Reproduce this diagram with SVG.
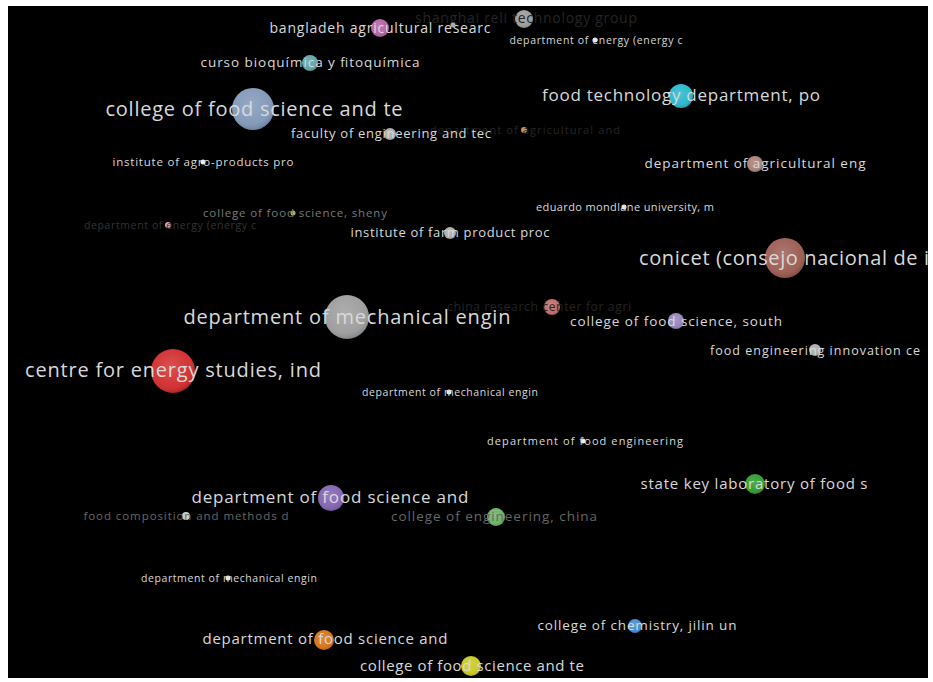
<svg xmlns="http://www.w3.org/2000/svg" width="933" height="682" viewBox="0 0 933 682">
<defs>
<radialGradient id="shade" cx="0.45" cy="0.4" r="0.6">
<stop offset="0" stop-color="#fff" stop-opacity="0.18"/>
<stop offset="0.7" stop-color="#fff" stop-opacity="0.05"/>
<stop offset="1" stop-color="#000" stop-opacity="0.15"/>
</radialGradient>
</defs>
<style>
text{font-family:"Open Sans","DejaVu Sans",sans-serif;text-anchor:middle;fill:#d9d9d9}
.f1{fill:#242424}.f2{fill:#333}.f3{fill:#7a7a7a}.f4{fill:#666}
.hl{fill:url(#shade)}
</style>
<rect x="0" y="0" width="933" height="682" fill="#fff"/>
<rect x="8" y="6" width="920" height="672" fill="#000"/>
<g id="connectors"></g>
<g id="n-shanghai"><circle cx="524" cy="19" r="9" fill="#9a9a9a"/><circle cx="524" cy="19" r="9" class="hl"/><text x="526" y="23" font-size="14" class="f1" textLength="222">shanghai reli technology group</text></g>
<g id="n-agriand"><circle cx="524" cy="130" r="3" fill="#c89050"/><text x="525" y="134" font-size="11" class="f1" textLength="190">department of agricultural and</text></g>
<g id="n-china"><circle cx="552" cy="307" r="8" fill="#c06868"/><circle cx="552" cy="307" r="8" class="hl"/><text x="539" y="311" font-size="12" class="f1" textLength="184">china research center for agri</text></g>
<g id="n-energy2"><circle cx="168" cy="225" r="3" fill="#d8a0b0"/><text x="170" y="229" font-size="10.5" class="f2" textLength="172">department of energy (energy c</text></g>
<g id="n-sheny"><circle cx="293" cy="213" r="2.5" fill="#b8b850"/><text x="295" y="217" font-size="11.5" class="f3" textLength="184">college of food science, sheny</text></g>
<g id="n-composition"><circle cx="186" cy="516" r="4" fill="#ccc"/><text x="186" y="520" font-size="11.5" class="f4" textLength="205">food composition and methods d</text></g>
<g id="n-engchina"><circle cx="496" cy="517" r="9" fill="#6ab060"/><circle cx="496" cy="517" r="9" class="hl"/><text x="494" y="521" font-size="13.5" class="f4" textLength="206">college of engineering, china</text></g>
<g id="n-bangladeh"><circle cx="380" cy="28" r="9" fill="#b45ea3"/><circle cx="380" cy="28" r="9" class="hl"/><text x="380" y="33" font-size="14" textLength="221">bangladeh agricultural researc</text></g>
<g id="n-dot453"><circle cx="453" cy="25" r="2.5" fill="#aaa"/></g>
<g id="n-energy1"><circle cx="595" cy="40" r="2.5" fill="#eee"/><text x="596" y="44" font-size="10.5" textLength="173">department of energy (energy c</text></g>
<g id="n-curso"><circle cx="310" cy="63" r="8" fill="#5aa3a6"/><circle cx="310" cy="63" r="8" class="hl"/><text x="310" y="67" font-size="13.5" textLength="219">curso bioquímica y fitoquímica</text></g>
<g id="n-cfst1"><circle cx="253" cy="109" r="21" fill="#7f97b8"/><circle cx="253" cy="109" r="21" class="hl"/><text x="254" y="116" font-size="20" textLength="297">college of food science and te</text></g>
<g id="n-faculty"><circle cx="390" cy="134" r="6" fill="#aaa"/><circle cx="390" cy="134" r="6" class="hl"/><text x="391" y="138" font-size="13" textLength="200">faculty of engineering and tec</text></g>
<g id="n-foodtech"><circle cx="681" cy="96" r="12" fill="#27b6ca"/><circle cx="681" cy="96" r="12" class="hl"/><text x="681" y="101" font-size="17" textLength="278">food technology department, po</text></g>
<g id="n-agrieng"><circle cx="755" cy="164" r="8" fill="#a87e76"/><circle cx="755" cy="164" r="8" class="hl"/><text x="755" y="168" font-size="13.5" textLength="221">department of agricultural eng</text></g>
<g id="n-agroprod"><circle cx="203" cy="162" r="2.5" fill="#eee"/><text x="203" y="166" font-size="11.5" textLength="181">institute of agro-products pro</text></g>
<g id="n-eduardo"><circle cx="624" cy="207" r="2.5" fill="#eee"/><text x="625" y="211" font-size="11" textLength="178">eduardo mondlane university, m</text></g>
<g id="n-farm"><circle cx="450" cy="233" r="6" fill="#aaa"/><circle cx="450" cy="233" r="6" class="hl"/><text x="450" y="237" font-size="13" textLength="199">institute of farm product proc</text></g>
<g id="n-conicet"><circle cx="785" cy="258" r="20" fill="#9a5a50"/><circle cx="785" cy="258" r="20" class="hl"/><text x="784" y="265" font-size="20" textLength="290">conicet (consejo nacional de i</text></g>
<g id="n-mech1"><circle cx="347" cy="317" r="22" fill="#9c9c9c"/><circle cx="347" cy="317" r="22" class="hl"/><text x="347" y="324" font-size="20" textLength="327">department of mechanical engin</text></g>
<g id="n-south"><circle cx="676" cy="321" r="8" fill="#9282b8"/><circle cx="676" cy="321" r="8" class="hl"/><text x="676" y="326" font-size="13.5" textLength="212">college of food science, south</text></g>
<g id="n-innov"><circle cx="815" cy="350" r="6" fill="#aaa"/><circle cx="815" cy="350" r="6" class="hl"/><text x="815" y="355" font-size="12.5" textLength="210">food engineering innovation ce</text></g>
<g id="n-centre"><circle cx="173" cy="371" r="22" fill="#d22a2a"/><circle cx="173" cy="371" r="22" class="hl"/><text x="173" y="377" font-size="20" textLength="296">centre for energy studies, ind</text></g>
<g id="n-mech2"><circle cx="449" cy="392" r="2.5" fill="#eee"/><text x="450" y="396" font-size="10.5" textLength="176">department of mechanical engin</text></g>
<g id="n-foodeng"><circle cx="583" cy="441" r="2.5" fill="#eee"/><text x="585" y="445" font-size="11" textLength="196">department of food engineering</text></g>
<g id="n-statekey"><circle cx="755" cy="484" r="10" fill="#2a9a2a"/><circle cx="755" cy="484" r="10" class="hl"/><text x="754" y="489" font-size="15" textLength="227">state key laboratory of food s</text></g>
<g id="n-dfsa1"><circle cx="331" cy="498" r="13" fill="#8060b0"/><circle cx="331" cy="498" r="13" class="hl"/><text x="330" y="503" font-size="17" textLength="277">department of food science and</text></g>
<g id="n-mech3"><circle cx="228" cy="578" r="2.5" fill="#eee"/><text x="229" y="582" font-size="10.5" textLength="176">department of mechanical engin</text></g>
<g id="n-jilin"><circle cx="635" cy="626" r="7" fill="#3a8ad6"/><circle cx="635" cy="626" r="7" class="hl"/><text x="637" y="630" font-size="13.5" textLength="199">college of chemistry, jilin un</text></g>
<g id="n-dfsa2"><circle cx="324" cy="640" r="10" fill="#d87010"/><circle cx="324" cy="640" r="10" class="hl"/><text x="325" y="644" font-size="15" textLength="245">department of food science and</text></g>
<g id="n-cfst2"><circle cx="471" cy="666" r="10" fill="#c8c820"/><circle cx="471" cy="666" r="10" class="hl"/><text x="472" y="671" font-size="15" textLength="224">college of food science and te</text></g>
</svg>
